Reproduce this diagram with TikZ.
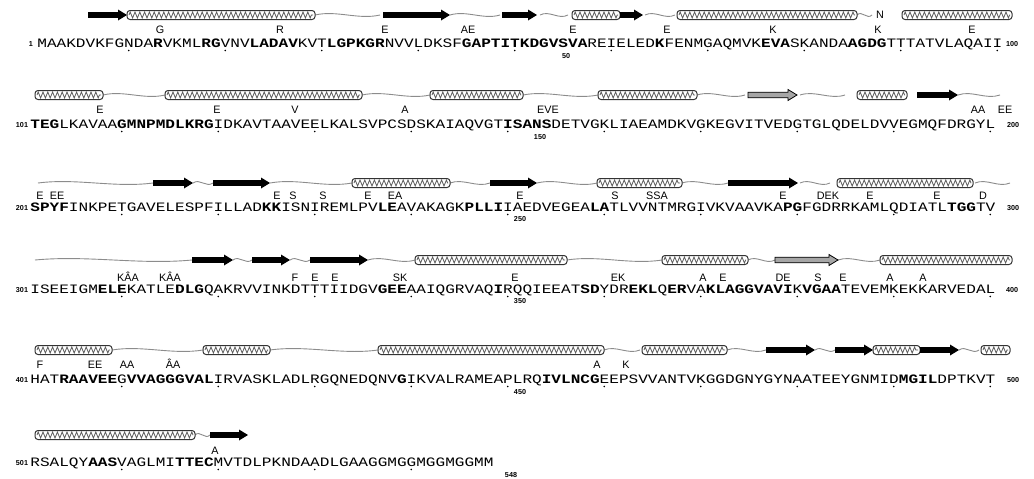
\documentclass[tikz,border=0pt]{standalone}
\usepackage{fontspec}
\setmainfont{Liberation Sans}
\newfontfamily\seqfont{Liberation Mono}
\usetikzlibrary{arrows.meta,decorations.pathmorphing}

\begin{document}
\begin{tikzpicture}[x=0.5pt,y=-0.5pt]
\tikzstyle{helix}=[draw=black!80,line width=0.5pt,rounded corners=1.5pt,fill=white]
\tikzstyle{zig}=[draw=black!65,line width=0.4pt,decorate,decoration={zigzag,segment length=2.4pt,amplitude=1.5pt}]
\tikzstyle{strand}=[fill=black]
\tikzstyle{lstrand}=[draw=black,line width=0.4pt,fill=black!35]
\tikzstyle{coil}=[draw=black!45,line width=0.45pt]
\tikzstyle{seq}=[anchor=west,inner sep=0pt,font=\seqfont\fontsize{8.04}{9}\selectfont]
\tikzstyle{mut}=[inner sep=0pt,font=\fontsize{5.4}{6}\selectfont]
\tikzstyle{num}=[inner sep=0pt,font=\bfseries\fontsize{3.6}{4}\selectfont]
\useasboundingbox (0,0) rectangle (1034,478);

\foreach \a/\b/\y in {315/380/15,450/500/15,540/568/15,645/675/15,857/872/15,
  103/165/95,362/430/95,523/598/95,697/745/95,800/845/95,958/1000/95,
  38/153/183,193/213/183,270/352/183,450/490/183,537/597/183,682/728/183,800/830/183,975/1010/183,
  35/192/260,233/252/260,290/310/260,368/415/260,567/662/260,748/775/260,838/880/260,
  112/203/350,270/378/350,604/640/350,727/766/350,815/835/350,959/979/350,
  195/210/435}
  \draw[coil] (\a,\y) .. controls +({(\b-\a)/3},-5) and +({(\a-\b)/3},5) .. (\b,\y);

\foreach \a/\b/\y in {127/315/15,572/620/15,677/857/15,902/1012/15,
  35/103/95,165/362/95,430/523/95,598/697/95,857/907/95,
  352/450/183,597/682/183,837/973/183,
  415/567/260,662/748/260,880/1012/260,
  35/112/350,203/270/350,378/604/350,642/727/350,873/920/350,981/1010/350,
  35/195/435}
  {\draw[helix] (\a,\y-4.5) rectangle (\b,\y+4.5);
   \draw[zig] (\a+2,\y) -- (\b-2,\y);}

\foreach \a/\b/\y in {88/127/15,383/450/15,502/537/15,620/643/15,
  917/958/95,
  153/193/183,213/270/183,490/537/183,728/798/183,
  192/233/260,252/290/260,310/368/260,
  766/815/350,835/873/350,920/959/350,
  210/248/435}
  \fill[strand] (\a,\y-2.8) -- (\b-9,\y-2.8) -- (\b-9,\y-5.5) -- (\b,\y) -- (\b-9,\y+5.5) -- (\b-9,\y+2.8) -- (\a,\y+2.8) -- cycle;

\foreach \a/\b/\y in {748/797/95,775/838/260}
  \draw[lstrand] (\a,\y-2.8) -- (\b-9,\y-2.8) -- (\b-9,\y-5.5) -- (\b,\y) -- (\b-9,\y+5.5) -- (\b-9,\y+2.8) -- (\a,\y+2.8) -- cycle;

\node[mut] (n1) at (880,15) {N};

\node[seq] (s1) at (37,44) {\scalebox{1}[0.8]{MAAKDVKFGNDA\textbf{R}VKML\textbf{RG}VNV\textbf{LADAV}KVT\textbf{LGPKGR}NVVLDKSF\textbf{GAPTITKDGVSVA}REIELED\textbf{K}FENMGAQMVK\textbf{EVA}SKANDA\textbf{AGDG}TTTATVLAQAII}};
\node[seq] (s2) at (30,125) {\scalebox{1}[0.8]{\textbf{TEG}LKAVAA\textbf{GMNPMDLKRG}IDKAVTAAVEELKALSVPCSDSKAIAQVGT\textbf{ISANS}DETVGKLIAEAMDKVGKEGVITVEDGTGLQDELDVVEGMQFDRGYL}};
\node[seq] (s3) at (30,208) {\scalebox{1}[0.8]{\textbf{SPYF}INKPETGAVELESPFILLAD\textbf{KK}ISNIREMLPV\textbf{LE}AVAKAGK\textbf{PLLI}IAEDVEGEA\textbf{LA}TLVVNTMRGIVKVAAVKA\textbf{PG}FGDRRKAMLQDIATL\textbf{TGG}TV}};
\node[seq] (s4) at (30,290) {\scalebox{1}[0.8]{ISEEIGM\textbf{ELE}KATLE\textbf{DLG}QAKRVVINKDTTTIIDGV\textbf{GEE}AAIQGRVAQ\textbf{I}RQQIEEAT\textbf{SD}YDR\textbf{EKL}Q\textbf{ER}VA\textbf{KLAGGVAVI}K\textbf{VGAA}TEVEMKEKKARVEDAL}};
\node[seq] (s5) at (30,380) {\scalebox{1}[0.8]{HAT\textbf{RAAVEE}G\textbf{VVAGGGVAL}IRVASKLADLRGQNEDQNV\textbf{G}IKVALRAMEAPLRQ\textbf{IVLNCG}EEPSVVANTVKGGDGNYGYNAATEEYGNMID\textbf{MGIL}DPTKVT}};
\node[seq] (s6) at (30,463) {\scalebox{1}[0.8]{RSALQY\textbf{AAS}VAGLMI\textbf{TTEC}MVTDLPKNDAADLGAAGGMGGMGGMGGMM}};

\foreach \xs/\y/\n in {37/44/10,30/125/10,30/208/10,30/290/10,30/380/10,30/463/4}
  \foreach \k in {1,...,\n}
    \fill ({\xs+(\k*10-0.5)*9.65},\y+6.5) circle (0.9);

\foreach \x/\y/\t [count=\i] in {31/44/1,22/125/101,22/208/201,22/290/301,22/380/401,22/463/501,
  1012/44/100,1013/125/200,1013/208/300,1012/290/400,1013/380/500,
  566/56/50,540/137/150,520/219/250,520/301/350,520/392/450,511/475/548}
  \node[num] (r\i) at (\x,\y) {\t};

\foreach \x/\y/\t [count=\i] in {160/30/G,280/30/R,385/30/E,468/30/AE,573/30/E,667/30/E,773/30/K,878/30/K,972/30/E,
  100/110/E,217/110/E,295/110/V,405/110/A,548/110/EVE,978/110/AA,1005/110/EE,
  40/196/E,57/196/EE,277/196/E,293/196/S,323/196/S,368/196/E,395/196/EA,520/196/E,615/196/S,657/196/SSA,783/196/E,828/196/DEK,870/196/E,937/196/E,983/196/D,
  128/277/KÂA,170/277/KÂA,295/278/F,315/278/E,335/278/E,400/278/SK,515/278/E,618/278/EK,703/278/A,723/278/E,783/278/DE,818/278/S,843/278/E,890/278/A,923/278/A,
  40/365/F,95/365/EE,127/365/AA,173/364/ÂA,597/365/A,626/365/K,
  215/451/A}
  \node[mut] (m\i) at (\x,\y) {\t};
\end{tikzpicture}
\end{document}
